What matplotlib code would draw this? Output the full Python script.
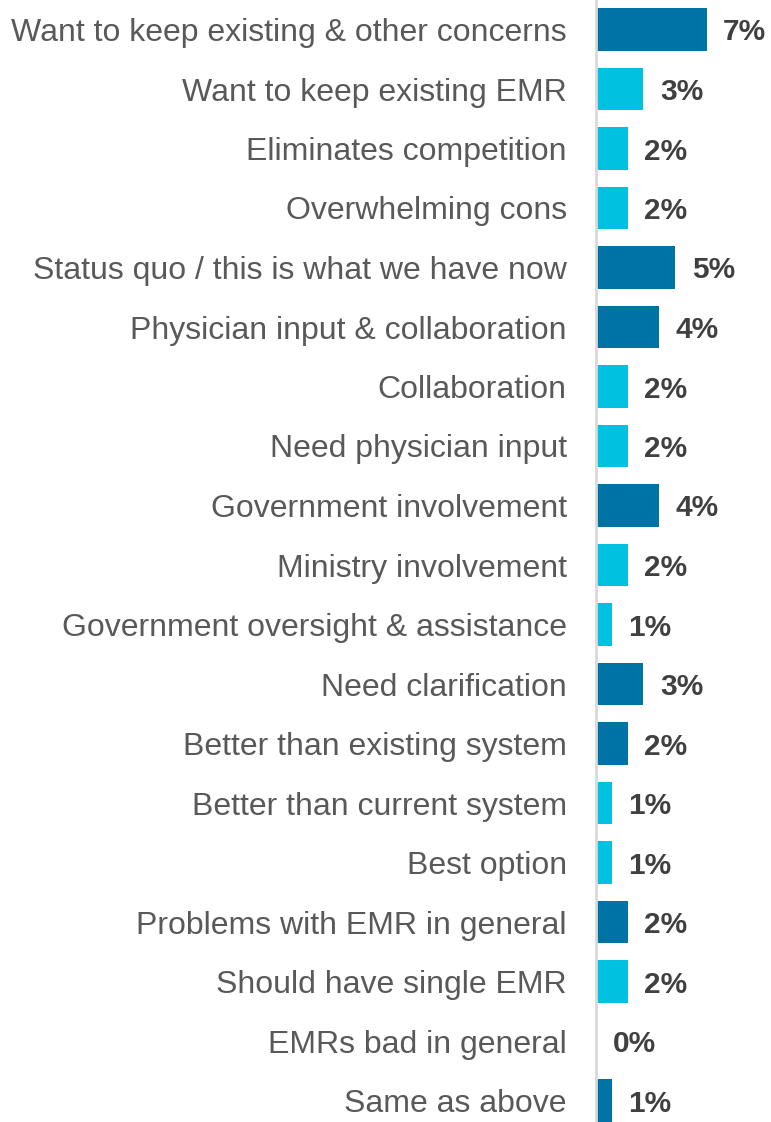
import matplotlib.pyplot as plt

categorias = [
    'Want to keep existing & other concerns',
    'Want to keep existing EMR',
    'Eliminates competition',
    'Overwhelming cons',
    'Status quo / this is what we have now',
    'Physician input & collaboration',
    'Collaboration',
    'Need physician input',
    'Government involvement',
    'Ministry involvement',
    'Government oversight & assistance',
    'Need clarification',
    'Better than existing system',
    'Better than current system',
    'Best option',
    'Problems with EMR in general',
    'Should have single EMR',
    'EMRs bad in general',
    'Same as above',
]
valores = [7, 3, 2, 2, 5, 4, 2, 2, 4, 2, 1, 3, 2, 1, 1, 2, 2, 0, 1]
# True = categoría principal (azul oscuro), False = subcategoría (cian)
principal = [True, False, False, False, True, True, False, False, True, False,
             False, True, True, False, False, True, False, True, True]

AZUL = '#0073A6'
CIAN = '#00C1E0'

plt.rcParams['font.family'] = ['Liberation Sans', 'DejaVu Sans']

fig = plt.figure(figsize=(7.71, 11.22), dpi=100)
ax = fig.add_axes([596 / 771, 0, 175 / 771, 1])

pos = list(range(len(categorias)))
colores = [AZUL if p else CIAN for p in principal]
ax.barh(pos, valores, height=0.72, color=colores)

for i, v in enumerate(valores):
    ax.text(v + 1.05, i, f'{v}%', va='center_baseline', ha='left', fontsize=21.5,
            fontweight='bold', color='#404040')

ax.set_xlim(0, 175 / 15.8)
ax.set_ylim((1122 - 29.5) / 59.5, -29.5 / 59.5)

ax.set_yticks(pos)
ax.set_yticklabels(categorias, fontsize=23, color='#595959')
ax.tick_params(axis='y', length=0, pad=21)
ax.set_xticks([])

for lado in ['top', 'right', 'bottom']:
    ax.spines[lado].set_visible(False)
ax.spines['left'].set_color('#D9D9D9')
ax.spines['left'].set_linewidth(2)

fig.savefig('out.png', dpi=100)
